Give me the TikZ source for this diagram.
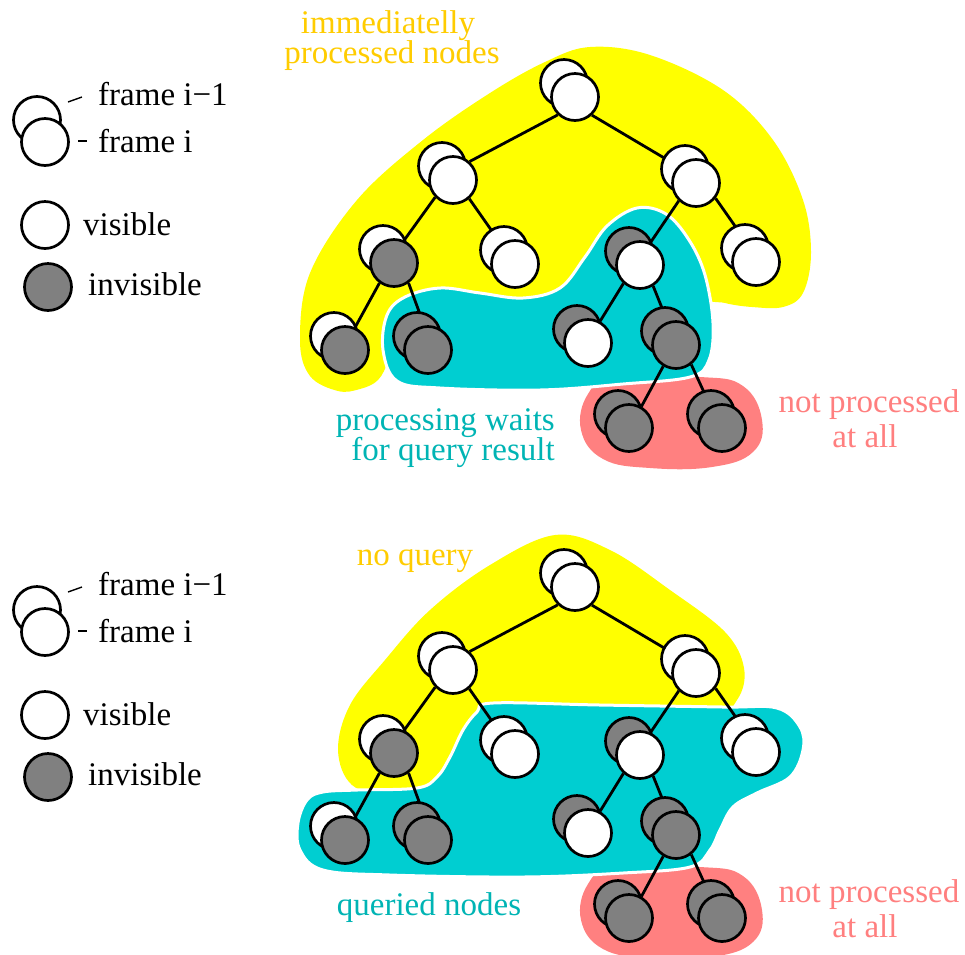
\documentclass[tikz,border=0pt]{standalone}
\usepackage{fontspec}
\setmainfont{Liberation Serif}
\usetikzlibrary{calc}

\pgfdeclarelayer{blobs}
\pgfdeclarelayer{links}
\pgfsetlayers{blobs,links,main}

\definecolor{hlyellow}{HTML}{FFFF00}
\definecolor{hlcyan}{HTML}{00CED1}
\definecolor{hlred}{HTML}{FF8080}
\definecolor{txtyellow}{HTML}{FFCC00}
\definecolor{txtcyan}{HTML}{00B4B4}
\definecolor{txtred}{HTML}{FF7F7F}
\definecolor{hidden}{HTML}{808080}

\tikzset{
  disc/.style={circle, draw=black, line width=2.7pt, minimum size=47pt, inner sep=0pt},
  vis/.style={disc, fill=white},
  invis/.style={disc, fill=hidden},
  link/.style={line width=2.8pt, black},
  tick/.style={line width=1.4pt, black},
  lbl/.style={anchor=base, inner sep=0pt, font=\fontsize{33}{33}\selectfont},
  cyanblob/.style={fill=hlcyan, draw=white, line width=3pt},
}

% a node of the tree: frame i-1 disc behind, frame i disc in front
% #1 name, #2 x, #3 y, #4 style of frame i-1, #5 style of frame i
\newcommand\treenode[5]{%
  \node[#4] (#1-old) at ({#2-11},{#3-14}) {};
  \node[#5] (#1) at (#2,#3) {};}

% the whole tree with its links; #1 is a name prefix
\newcommand\drawtree[1]{%
  \treenode{#1r}{575}{97}{vis}{vis}
  \treenode{#1a}{453}{180}{vis}{vis}
  \treenode{#1b}{696}{183}{vis}{vis}
  \treenode{#1c}{394}{263}{vis}{invis}
  \treenode{#1d}{515}{264}{vis}{vis}
  \treenode{#1e}{640}{265}{invis}{vis}
  \treenode{#1f}{756}{262}{vis}{vis}
  \treenode{#1g}{345}{350}{vis}{invis}
  \treenode{#1h}{428}{350}{invis}{invis}
  \treenode{#1i}{588}{343}{invis}{vis}
  \treenode{#1j}{676}{345}{invis}{invis}
  \treenode{#1k}{629}{428}{invis}{invis}
  \treenode{#1l}{722}{428}{invis}{invis}
  \begin{pgfonlayer}{links}
    \draw[link] (#1r.226) -- (#1a.48);
    \draw[link] (#1r.313) -- (#1b.137);
    \draw[link] (#1a.224) -- (#1c.66);
    \draw[link] (#1a.311) -- (#1d.125);
    \draw[link] (#1b.226) -- (#1e.65);
    \draw[link] (#1b.322) -- (#1f.117);
    \draw[link] (#1c.234) -- (#1g.66);
    \draw[link] (#1c.306) -- (#1h.99);
    \draw[link] (#1e.228) -- (#1i.61);
    \draw[link] (#1e.302) -- (#1j.110);
    \draw[link] (#1j.239) -- (#1k.60);
    \draw[link] (#1j.308) -- (#1l.118);
  \end{pgfonlayer}}

% the key at the left; #1 is a name prefix
\newcommand\drawkey[1]{%
  \node[vis] (#1prev) at (37,120) {};
  \node[vis] (#1cur) at (45,142) {};
  \node[vis] (#1vis) at (45,225) {};
  \node[invis] (#1inv) at (48,287) {};
  \node[lbl, anchor=base west] (#1tprev) at (98,105) {frame i−1};
  \node[lbl, anchor=base west] (#1tcur) at (98,152) {frame i};
  \node[lbl, anchor=base west] (#1tvis) at (83,235) {visible};
  \node[lbl, anchor=base west] (#1tinv) at (88,295) {invisible};
  \draw[tick] ($(#1tprev.base west)+(-30,-3)$) -- ($(#1tprev.base west)+(-16,-8)$);
  \draw[tick] ($(#1tcur.base west)+(-20,-11)$) -- ($(#1tcur.base west)+(-11,-11)$);}

% the red group of leaves; #1 is the vertical offset
\newcommand\redblob[1]{%
  \fill[hlred, shift={(0,#1)}] plot[smooth cycle, tension=0.7] coordinates {
    (615,378) (700,377) (743,386) (762,420) (753,452) (712,467) (650,468)
    (603,459) (581,430) (588,394)};}

\begin{document}
\begin{tikzpicture}[x=1pt, y=-1pt]
\useasboundingbox (0,0) rectangle (965,954);

% ---------- upper panel ----------
\begin{pgfonlayer}{blobs}
  \fill[hlyellow] plot[smooth cycle, tension=0.6] coordinates {
    (590,47) (650,55) (723,90) (773,140) (803,200) (811,253) (803,293)
    (783,307) (752,307) (725,303) (703,295) (685,245) (640,222) (605,250)
    (570,300) (500,310) (420,310) (392,330) (388,360) (378,380) (360,389)
    (338,391) (310,376) (300,340) (310,273) (357,200) (423,140) (490,93)
    (545,62)};
  \redblob{0}
  \filldraw[cyanblob] plot[smooth cycle, tension=0.6] coordinates {
    (637,208) (666,214) (689,240) (705,275) (713,323) (709,360) (690,377)
    (623,384) (540,390) (440,388) (397,381) (383,350) (387,315) (405,297)
    (440,288) (480,293) (523,298) (560,288) (585,257) (607,226)};
\end{pgfonlayer}

\drawkey{ka}
\drawtree{ta}

\node[lbl, text=txtyellow] (ta-imm) at (388,33) {immediatelly};
\node[lbl, text=txtyellow] (ta-proc) at (392,63) {processed nodes};
\node[lbl, text=txtcyan, anchor=base east] (ta-wait) at (555,430) {processing waits};
\node[lbl, text=txtcyan, anchor=base east] (ta-query) at (555,460) {for query result};
\node[lbl, text=txtred] (ta-not) at (869,412) {not processed};
\node[lbl, text=txtred] (ta-all) at (865,447) {at all};

% ---------- lower panel ----------
\begin{pgfonlayer}{blobs}
  \fill[hlyellow] plot[smooth cycle, tension=0.6] coordinates {
    (555,535) (610,550) (670,590) (725,632) (744,668) (737,700) (705,725)
    (600,725) (510,722) (480,745) (440,790) (390,795) (352,785) (338,750)
    (350,705) (385,660) (430,610) (490,565)};
  \redblob{490}
  \filldraw[cyanblob] plot[smooth cycle, tension=0.6] coordinates {
    (493,703) (600,705) (723,707) (777,708) (800,727) (803,750) (790,777)
    (757,793) (733,807) (720,830) (710,850) (690,867) (623,873) (523,877)
    (390,875) (323,870) (300,850) (298,823) (307,800) (323,792) (357,790)
    (417,788) (437,777) (450,757) (463,730) (477,712)};
\end{pgfonlayer}

\begin{scope}[shift={(0,490)}]
  \drawkey{kb}
  \drawtree{tb}
\end{scope}

\node[lbl, text=txtyellow] (tb-noq) at (415,565) {no query};
\node[lbl, text=txtcyan] (tb-qn) at (429,915) {queried nodes};
\node[lbl, text=txtred] (tb-not) at (869,902) {not processed};
\node[lbl, text=txtred] (tb-all) at (865,937) {at all};
\end{tikzpicture}
\end{document}
